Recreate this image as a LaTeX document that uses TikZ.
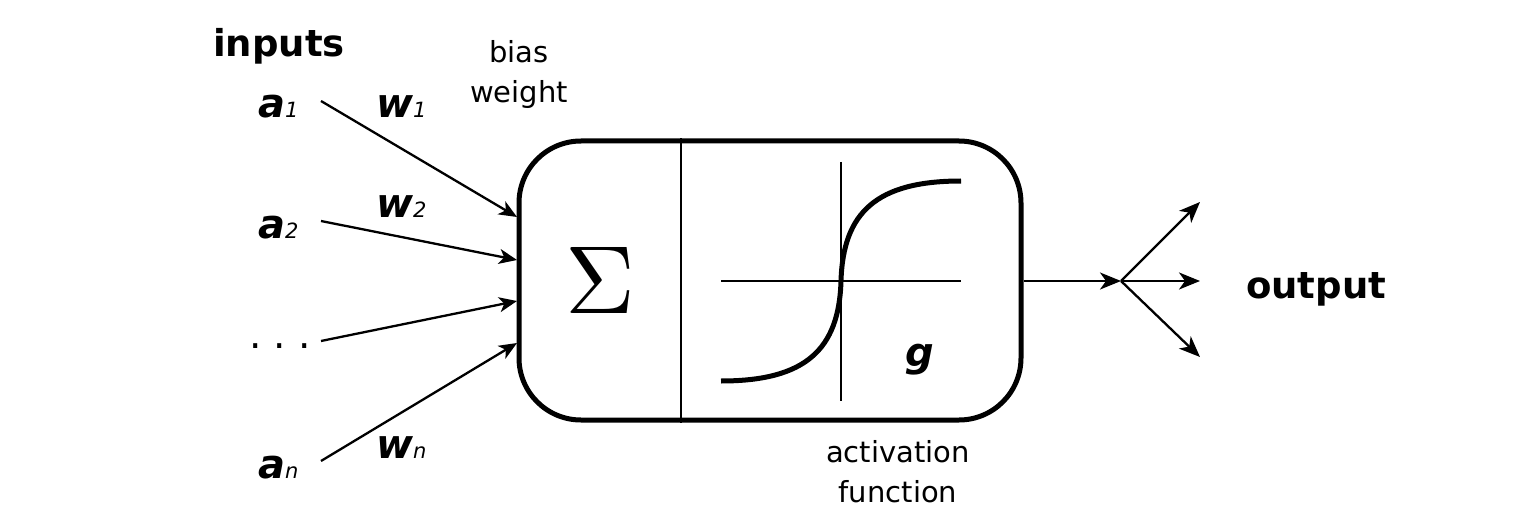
\documentclass[tikz,border=0pt]{standalone}
\usepackage{fontspec}
\setmainfont{DejaVu Sans}
\usetikzlibrary{arrows.meta}
\newcommand\lblsub[1]{{\fontsize{21}{22}\selectfont\mdseries\itshape #1}}
\begin{document}
\begin{tikzpicture}[x=1pt,y=-1pt,
  inarrow/.style={line width=2.3pt,-{Stealth[length=18pt,width=15pt,inset=5pt]}},
  outarrow/.style={line width=2.3pt,-{Stealth[length=21pt,width=17pt,inset=6pt]}},
  lbl/.style={font=\fontsize{40}{44}\selectfont\bfseries\itshape, inner sep=0pt, anchor=base west},
  small/.style={font=\fontsize{29}{40}\selectfont, align=center, inner sep=0pt},
  big/.style={font=\fontsize{37}{40}\selectfont\bfseries, inner sep=0pt, anchor=base west},
  thin/.style={line width=2.4pt}]
\useasboundingbox (0,0) rectangle (1524,524);
\fill[white] (0,0) rectangle (1524,524);
% neuron box
\node[draw, line width=5pt, rounded corners=62pt, minimum width=502pt, minimum height=279pt, inner sep=0pt] (neuron) at (770,280.5) {};
\coordinate (divx) at (681,0);
\draw[thin] (neuron.north -| divx) -- (neuron.south -| divx);
\node[inner sep=0pt] (sigma) at (600,280) {\resizebox{!}{66pt}{$\Sigma$}};
% activation plot
\coordinate (hx0) at (721,281);
\coordinate (hx1) at (961,281);
\coordinate (vy0) at (841,162);
\coordinate (vy1) at (841,401);
\draw[thin] (hx0) -- (hx1);
\draw[thin] (vy0) -- (vy1);
\coordinate (sg0) at (721,381);
\coordinate (sgc) at (841,281);
\coordinate (sg1) at (961,181);
\draw[line width=5pt] (sg0) .. controls (805,381) and (839,350) .. (sgc) .. controls (843,212) and (877,181) .. (sg1);
\node[lbl] (g) at (905,366) {g};
% labels
\node[big] (inputs) at (213,57) {inputs};
\node[small] (bias) at (519,75) {bias\\weight};
\node[small] (act) at (898,472) {activation\\function};
\node[lbl] (a1) at (258,118) {a\lblsub{1}};
\node[lbl] (w1) at (376,118) {w\lblsub{1}};
\node[lbl] (a2) at (258,238) {a\lblsub{2}};
\node[lbl] (w2) at (376,217) {w\lblsub{2}};
\node[inner sep=0pt, anchor=base west, font=\fontsize{39}{40}\selectfont] (dots) at (249,348) {.\ .\ .};
\node[lbl] (an) at (258,478) {a\lblsub{n}};
\node[lbl] (wn) at (376,458) {w\lblsub{n}};
\node[big] (output) at (1246,298) {output};
% input connectors
\coordinate (s1) at (321,101);
\coordinate (s2) at (321,221);
\coordinate (s3) at (321,341);
\coordinate (s4) at (321,461);
\coordinate (e1) at (517,217);
\coordinate (e2) at (517,260);
\coordinate (e3) at (517,301);
\coordinate (e4) at (517,343);
\draw[inarrow] (s1) -- (e1);
\draw[inarrow] (s2) -- (e2);
\draw[inarrow] (s3) -- (e3);
\draw[inarrow] (s4) -- (e4);
% output connectors
\coordinate (split) at (1121,281);
\coordinate (o1) at (1200,202);
\coordinate (o2) at (1200,281);
\coordinate (o3) at (1200,357);
\draw[outarrow] (neuron.east |- split) -- (split);
\draw[outarrow] (split) -- (o1);
\draw[outarrow] (split) -- (o2);
\draw[outarrow] (split) -- (o3);
\end{tikzpicture}
\end{document}
